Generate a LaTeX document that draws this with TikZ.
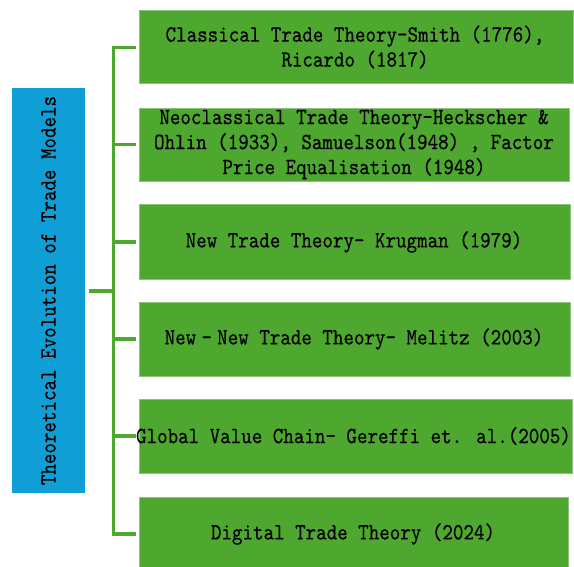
\documentclass[tikz,border=0pt]{standalone}
\usepackage{fontspec}
\usepackage{xcolor}
\newfontfamily\itemfont[FakeStretch=0.86,FakeBold=0.3]{lmmono10-regular.otf}
\definecolor{boxgreen}{HTML}{4EA72E}
\definecolor{edgegreen}{HTML}{8CC47A}
\definecolor{boxblue}{HTML}{0F9ED5}
\tikzset{
  itembox/.style={fill=boxgreen, draw=edgegreen, line width=0.8pt},
  itemtext/.style={font=\itemfont\fontsize{23.3}{25}\selectfont, align=center, text=black, inner sep=0pt},
  titlebox/.style={fill=boxblue, draw=none},
  link/.style={draw=boxgreen, line width=3.2pt}
}
\begin{document}
\begin{tikzpicture}[x=1pt,y=-1pt]
\useasboundingbox[fill=white] (0,0) rectangle (574,566);
% title
\fill[titlebox] (12,88) rectangle (85,493);
\node[itemtext, rotate=90] (title) at (48.5,290.5) {Theoretical Evolution of Trade Models};
% boxes
\path[itembox] (139,10) rectangle (573,83);
\path[itembox] (139,108) rectangle (569,181);
\path[itembox] (139,204) rectangle (570,279);
\path[itembox] (139,302) rectangle (570,376);
\path[itembox] (139,399) rectangle (572,473);
\path[itembox] (139,497) rectangle (568,572);
\node[itemtext] (b1) at (355,47) {Classical Trade Theory-Smith (1776),\\Ricardo (1817)};
\node[itemtext] (b2) at (354,144.5) {Neoclassical Trade Theory-Heckscher \&\\Ohlin (1933), Samuelson(1948) , Factor\\Price Equalisation (1948)};
\node[itemtext] (b3) at (354,242) {New Trade Theory- Krugman (1979)};
\node[itemtext] (b4) at (354,339) {New\makebox[21pt]{-}New Trade Theory- Melitz (2003)};
\node[itemtext] (b5) at (353.5,436) {Global Value Chain- Gereffi et. al.(2005)};
\node[itemtext] (b6) at (353,534) {Digital Trade Theory (2024)};
% connectors
\coordinate (spineTop) at (113.5,47.5);
\coordinate (spineBot) at (113.5,534);
\coordinate (hub) at (113.5,291);
\draw[link] (89,291) -- (hub);
\draw[link] (136,47.5) -- (spineTop) -- (spineBot) -- (136,534);
\foreach \yy in {144.5,242,339,436}{
  \draw[link] (113.5,\yy) -- (136,\yy);
}
\end{tikzpicture}
\end{document}
